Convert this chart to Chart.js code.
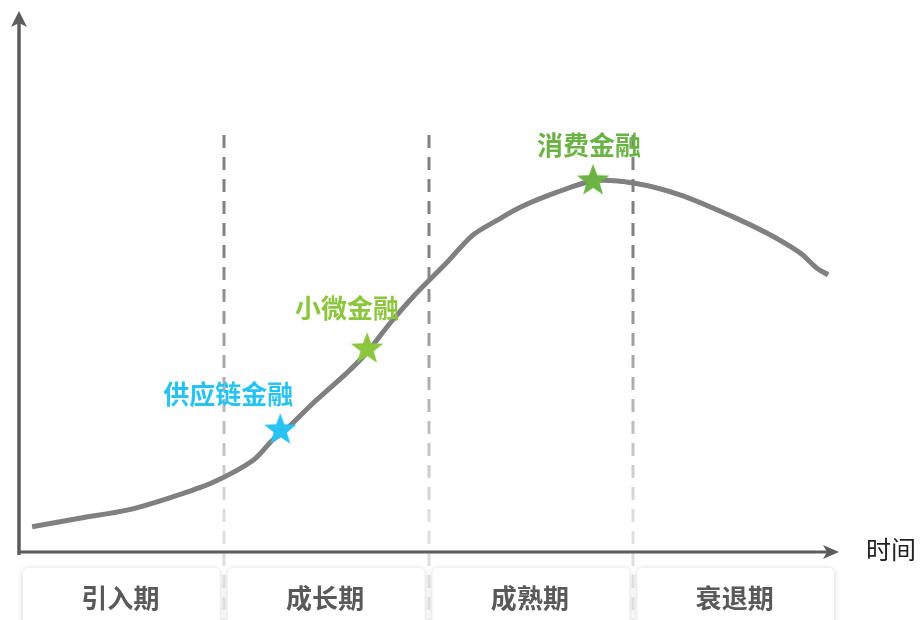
<!DOCTYPE html>
<html>
<head>
<meta charset="utf-8">
<script src="https://cdn.jsdelivr.net/npm/chart.js@4.4.1/dist/chart.umd.min.js"></script>
<style>
html, body { margin: 0; padding: 0; background: #fff; }
canvas { display: block; }
</style>
</head>
<body>
<canvas id="myChart" width="922" height="620"></canvas>
<script>
// lifecycle curve (time 0-100, value 0-100)
const curveTime  = [1.6, 7.4, 13.2, 18.4, 23.7, 28.6, 31.0, 32.2, 35.9, 40.0, 42.5, 45.3, 48.1, 52.3, 55.4, 58.4, 61.2, 65.7, 70.1, 75.0, 80.7, 87.2, 91.3, 94.5, 95.7, 97.4, 98.8];
const curveValue = [4.7, 6.3, 7.8, 10.1, 13.0, 17.1, 20.9, 22.2, 27.7, 33.3, 37.2, 42.6, 47.5, 54.0, 59.0, 61.8, 64.2, 67.0, 69.1, 68.7, 66.5, 62.4, 59.4, 56.6, 55.3, 52.9, 51.6];

const phaseNames  = ['引入期', '成长期', '成熟期', '衰退期'];
const phaseBounds = [0, 25, 50, 75, 100];

const productNames  = ['供应链金融', '小微金融', '消费金融'];
const productTime   = [31.9, 42.5, 70.1];
const productValue  = [22.9, 38.0, 69.3];
const productColors = ['#27c3f2', '#8cc63f', '#6bb345'];

const axisTitle = '时间';

function makeStar(color) {
    const c = document.createElement('canvas');
    c.width = 36; c.height = 36;
    const g = c.getContext('2d');
    g.fillStyle = color;
    g.beginPath();
    for (let i = 0; i < 10; i++) {
        const r = i % 2 === 0 ? 17 : 7;
        const a = -Math.PI / 2 + i * Math.PI / 5;
        const px = 18 + r * Math.cos(a), py = 19 + r * Math.sin(a);
        if (i === 0) g.moveTo(px, py); else g.lineTo(px, py);
    }
    g.closePath();
    g.fill();
    return c;
}

const lifecyclePlugin = {
    id: 'lifecycle',
    beforeDatasetsDraw(chart) {
        const ctx = chart.ctx, xs = chart.scales.x, ys = chart.scales.y;
        ctx.save();

        // phase boxes under the x axis
        ctx.font = 'bold 26px "Noto Sans CJK SC"';
        ctx.textAlign = 'center';
        ctx.textBaseline = 'middle';
        phaseNames.forEach((name, i) => {
            const cx = (xs.getPixelForValue(phaseBounds[i]) + xs.getPixelForValue(phaseBounds[i + 1])) / 2;
            ctx.save();
            ctx.shadowColor = 'rgba(0,0,0,0.18)';
            ctx.shadowBlur = 6;
            ctx.shadowOffsetY = 1;
            ctx.fillStyle = '#fff';
            ctx.beginPath();
            ctx.roundRect(cx - 98.5, 568, 197, 70, 5);
            ctx.fill();
            ctx.restore();
            ctx.fillStyle = '#595959';
            ctx.fillText(name, cx - 1, 598);
        });

        // dashed phase borders, fading downward
        const grad = ctx.createLinearGradient(0, 250, 0, 520);
        grad.addColorStop(0, '#808080');
        grad.addColorStop(1, '#dedede');
        ctx.strokeStyle = grad;
        ctx.lineWidth = 3;
        ctx.setLineDash([13, 9]);
        phaseBounds.slice(1, -1).forEach(b => {
            const px = Math.round(xs.getPixelForValue(b));
            ctx.beginPath();
            ctx.moveTo(px, 135);
            ctx.lineTo(px, 620);
            ctx.stroke();
        });
        ctx.setLineDash([]);

        // axes with arrows
        const ox = xs.getPixelForValue(0), oy = ys.getPixelForValue(0);
        const topY = ys.getPixelForValue(100), endX = xs.getPixelForValue(100);
        ctx.strokeStyle = '#5c5c5c';
        ctx.fillStyle = '#5c5c5c';
        ctx.lineWidth = 3.5;
        ctx.beginPath();
        ctx.moveTo(ox, oy + 3);
        ctx.lineTo(ox, topY + 8);
        ctx.stroke();
        ctx.lineWidth = 3;
        ctx.beginPath();
        ctx.moveTo(ox - 1, oy);
        ctx.lineTo(endX - 8, oy);
        ctx.stroke();

        ctx.beginPath();
        ctx.moveTo(ox, topY - 4);
        ctx.lineTo(ox - 8, topY + 12);
        ctx.lineTo(ox, topY + 8);
        ctx.lineTo(ox + 8, topY + 12);
        ctx.closePath();
        ctx.fill();

        ctx.beginPath();
        ctx.moveTo(endX + 1, oy);
        ctx.lineTo(endX - 15, oy - 7);
        ctx.lineTo(endX - 11, oy);
        ctx.lineTo(endX - 15, oy + 7);
        ctx.closePath();
        ctx.fill();

        ctx.fillStyle = '#222';
        ctx.font = '25px "Noto Sans CJK SC"';
        ctx.textAlign = 'left';
        ctx.fillText(axisTitle, endX + 28, oy - 3);
        ctx.restore();
    },
    afterDatasetsDraw(chart) {
        const ctx = chart.ctx, xs = chart.scales.x, ys = chart.scales.y;
        const offsets = [[-52, -35], [-20, -40], [-4, -35]];
        ctx.save();
        ctx.font = 'bold 26px "Noto Sans CJK SC"';
        ctx.textAlign = 'center';
        ctx.textBaseline = 'middle';
        productNames.forEach((name, i) => {
            ctx.fillStyle = productColors[i];
            ctx.fillText(name,
                xs.getPixelForValue(productTime[i]) + offsets[i][0],
                ys.getPixelForValue(productValue[i]) + offsets[i][1]);
        });
        ctx.restore();
    }
};

new Chart(document.getElementById('myChart'), {
    type: 'scatter',
    data: {
        datasets: [
            {
                data: curveTime.map((t, i) => ({ x: t, y: curveValue[i] })),
                showLine: true,
                borderColor: '#808080',
                borderWidth: 5,
                pointRadius: 0,
                tension: 0.3,
                clip: false,
                order: 2
            },
            {
                data: productTime.map((t, i) => ({ x: t, y: productValue[i] })),
                pointStyle: productColors.map(makeStar),
                showLine: false,
                clip: false,
                order: 1
            }
        ]
    },
    options: {
        responsive: false,
        animation: false,
        devicePixelRatio: 1,
        layout: { padding: { left: 19, right: 84, top: 15, bottom: 68 } },
        scales: {
            x: { type: 'linear', min: 0, max: 100, display: false },
            y: { min: 0, max: 100, display: false }
        },
        plugins: { legend: { display: false }, tooltip: { enabled: false } }
    },
    plugins: [lifecyclePlugin]
});
</script>
</body>
</html>
